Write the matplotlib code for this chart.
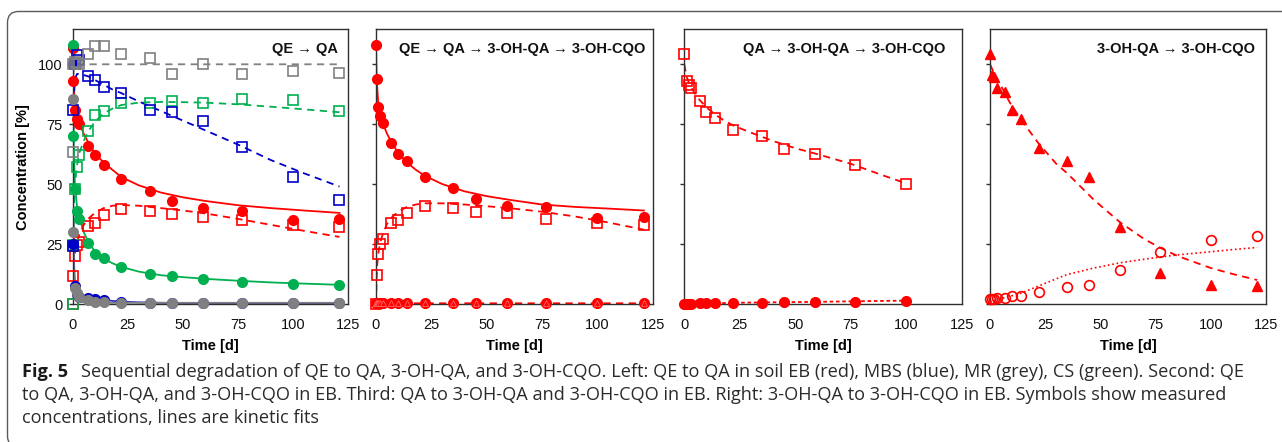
import numpy as np
import matplotlib.pyplot as plt
from matplotlib.patches import FancyBboxPatch
from matplotlib.text import Annotation
from matplotlib.transforms import IdentityTransform

# sampling times [d]
t1 = [0, 0.25, 1, 2, 3, 7, 10, 14, 22, 35, 45, 59, 77, 100, 121]
t3 = [0, 1, 2, 3, 7, 10, 14, 22, 35, 45, 59, 77, 100]
t4 = [0, 1, 2, 3, 7, 10, 14, 22, 35, 45, 59, 77, 100, 121]

# left panel, QE (circles) and QA (squares) per soil
eb_qe = [107, 93, 81, 77, 75, 66, 62, 58, 52, 47, 43, 40, 39, 35, 35.5]
eb_qa = [0, 11.5, 20, 24.5, 26, 32.5, 34, 37, 39.5, 39, 37.5, 36.5, 35, 33, 32]
mbs_qe = [100, 25, 7.5, 4, 3, 2.5, 2, 1.5, 0.8, 0.5, 0.4, 0.4, 0.3, 0.3, 0.3]
mbs_qa = [24, 81, 100, 104, 102, 95, 93.5, 90.5, 88, 81, 80, 76.5, 65.5, 53, 43.5]
mr_qe = [85.5, 30, 6.5, 4.5, 3, 1.5, 1, 0.8, 0.5, 0.5, 0.5, 0.5, 0.5, 0.5, 0.5]
mr_qa = [63.5, 100, 101, 100.5, 100, 104.5, 107.5, 107.5, 104.5, 102.5, 96, 100, 96, 97, 96.5]
cs_qe = [108, 70, 48, 39, 35.5, 25.5, 21, 19, 15.5, 12.5, 11.5, 10.5, 9, 8.5, 8]
cs_qa = [0, 24.5, 48, 57, 62, 72, 79, 80.5, 84, 84, 84.5, 84, 85.5, 85, 80.5]

# kinetic fits, left panel
ft1 = [0, 0.25, 0.5, 1, 2, 3, 5, 7, 10, 14, 18, 22, 30, 40, 50, 60, 75, 90, 105, 121]
eb_qe_fit = [107, 95, 90, 84, 78, 75.5, 71, 67.5, 63, 59, 56, 53, 49.5, 46.5, 44.5, 43, 41.2, 40, 39, 38]
eb_qa_fit = [0, 10, 16, 21, 26, 29, 33, 35.5, 38, 40, 41, 41.3, 41, 40, 39, 37.8, 35.5, 33, 30.5, 28]
cs_qe_fit = [108, 80, 66, 50, 40, 36, 30, 26, 22, 19, 17, 15.5, 13.5, 12, 11.2, 10.5, 9.7, 9, 8.5, 8]
cs_qa_fit = [0, 25, 38, 50, 58, 63, 68, 72, 76, 79.5, 81.5, 83, 84, 84.3, 84.2, 84, 83.3, 82.3, 81.2, 80]
mbs_qe_fit = [100, 40, 20, 8, 4, 3, 2.7, 2.5, 2.2, 1.8, 1.3, 1, 0.7, 0.5, 0.4, 0.4, 0.4, 0.4, 0.4, 0.4]
mbs_qa_fit = [20, 70, 85, 94, 96, 96, 95.5, 95, 93.5, 91.5, 89.5, 88, 84.5, 80.5, 76.5, 72.5, 66.5, 60, 54.5, 49]
mr_qe_fit = [86, 30, 15, 5, 2, 1.2, 0.8, 0.6, 0.5, 0.5, 0.5, 0.5, 0.5, 0.5, 0.5, 0.5, 0.5, 0.5, 0.5, 0.5]
mr_qa_fit = [64, 95, 99, 100, 100, 100, 100, 100, 100, 100, 100, 100, 100, 100, 100, 100, 100, 100, 100, 100]

# second panel, QE -> QA -> 3-OH-QA -> 3-OH-CQO
p2_qe = [108, 94, 82, 78.5, 75.5, 67, 62.5, 59.5, 53, 48.5, 44, 41, 40.5, 36, 36.5]
p2_qa = [0, 12, 21, 25, 27, 34, 35, 38, 41, 40, 38.5, 38, 35.5, 34, 33]
p2_oh = [0.3, 0.3, 0.3, 0.3, 0.3, 0.3, 0.3, 0.3, 0.3, 0.3, 0.3, 0.4, 0.4, 0.4, 0.4]
p2_qe_fit = [108, 96, 91, 84, 78.5, 75.5, 71, 67.5, 63, 59, 56, 53.5, 50, 47, 45, 43.5, 41.5, 40.5, 39.8, 39]
p2_qa_fit = [0, 10, 16, 21, 26, 29, 33.5, 36, 38.5, 40.5, 41.5, 42, 42, 41.5, 40.8, 40, 38.5, 36.5, 34, 31]
p2_oh_fit = [0, 0.1, 0.1, 0.2, 0.2, 0.2, 0.2, 0.2, 0.3, 0.3, 0.3, 0.3, 0.3, 0.3, 0.3, 0.3, 0.3, 0.3, 0.3, 0.3]

# third panel, QA -> 3-OH-QA -> 3-OH-CQO
p3_qa = [104.5, 93, 91.5, 90, 84.5, 80, 77.5, 72.5, 70, 64.5, 62.5, 58, 50]
p3_oh = [0, 0, 0, 0.2, 0.3, 0.3, 0.4, 0.4, 0.6, 0.7, 0.8, 1, 1.4]
ft3 = [0, 1, 2, 3, 5, 7, 10, 14, 18, 22, 30, 40, 50, 60, 75, 90, 100]
p3_qa_fit = [100, 95, 92.5, 90.5, 87.5, 85, 82, 79, 76.5, 74.5, 71.5, 68, 65, 62.5, 58.5, 53.5, 50.3]
p3_oh_fit = [0, 0.1, 0.1, 0.2, 0.2, 0.3, 0.3, 0.4, 0.4, 0.5, 0.6, 0.7, 0.8, 0.9, 1.1, 1.3, 1.4]

# right panel, 3-OH-QA -> 3-OH-CQO
p4_oh = [104.5, 95.5, 94.5, 90, 88.5, 81, 77, 65, 59.5, 53, 32, 13, 8, 7.5]
p4_cqo = [2, 2, 2, 2.3, 2.5, 3.3, 3.5, 5, 7, 8, 14, 21.5, 26.5, 28.5]
ft4 = [0, 2, 5, 9, 14, 22, 30, 35, 47, 59, 70, 77, 85, 100, 110, 121]
p4_oh_fit = [100, 96, 91, 84, 77, 67, 58.5, 54.5, 43.5, 34, 27, 23.5, 20, 15, 12.5, 10]
p4_cqo_fit = [1, 1.5, 2.3, 3.2, 4.5, 7.5, 10.5, 12.3, 15, 17.2, 18.7, 19.6, 20.5, 21.8, 22.7, 23.6]

titles = ['QE \u2192 QA', 'QE \u2192 QA \u2192 3-OH-QA \u2192 3-OH-CQO',
          'QA \u2192 3-OH-QA \u2192 3-OH-CQO', '3-OH-QA \u2192 3-OH-CQO']

RED = '#FF0000'
BLUE = '#0000C8'
GREEN = '#00B050'
GREY = '#808080'

plt.rcParams['font.family'] = ['Liberation Sans', 'DejaVu Sans']

W, H = 1282, 442
fig = plt.figure(figsize=(W / 100, H / 100), dpi=100)

# outer rounded frame
frame = FancyBboxPatch((7.5, -5), 1320, H - 11.5 + 5, boxstyle='round,pad=0,rounding_size=11',
                       transform=IdentityTransform(), fill=False, ec='#5a5a5a', lw=1.0)
fig.add_artist(frame)

# axes boxes in pixels: left, right
boxes = [(72.7, 348.3), (376, 652.7), (684.3, 961.7), (990, 1266)]
top_px, bot_px = 29.3, 304
axes = []
for l, r in boxes:
    ax = fig.add_axes([l / W, 1 - bot_px / H, (r - l) / W, (bot_px - top_px) / H])
    axes.append(ax)

ms_c = 6.8
ms_s = 6.6
lw = 1.3
dash = (4, 3)


def circ(ax, x, y, c, filled=True, ms=ms_c):
    ax.plot(x, y, 'o', ms=ms, mfc=c if filled else 'none', mec=c, mew=1.2,
            ls='none', clip_on=False, zorder=4)


def sq(ax, x, y, c):
    ax.plot(x, y, 's', ms=ms_s, mfc='none', mec=c, mew=1.2, ls='none', clip_on=False, zorder=4)


# panel 1
ax = axes[0]
ax.plot(ft1, eb_qe_fit, '-', color=RED, lw=lw)
ax.plot(ft1, eb_qa_fit, '--', color=RED, lw=lw, dashes=dash)
circ(ax, t1, eb_qe, RED)
sq(ax, t1, eb_qa, RED)
ax.plot(ft1, cs_qe_fit, '-', color=GREEN, lw=lw)
ax.plot(ft1, cs_qa_fit, '--', color=GREEN, lw=lw, dashes=dash)
circ(ax, t1, cs_qe, GREEN)
sq(ax, t1, cs_qa, GREEN)
ax.plot(ft1, mbs_qe_fit, '-', color='#3030C8', lw=lw)
ax.plot(ft1, mbs_qa_fit, '--', color=BLUE, lw=lw, dashes=dash)
circ(ax, t1, mbs_qe, BLUE)
sq(ax, t1, mbs_qa, BLUE)
ax.plot(ft1, mr_qe_fit, '-', color=GREY, lw=lw)
ax.plot(ft1, mr_qa_fit, '--', color=GREY, lw=lw, dashes=dash)
circ(ax, t1, mr_qe, GREY)
sq(ax, t1, mr_qa, GREY)

# panel 2
ax = axes[1]
ax.plot(ft1, p2_qe_fit, '-', color=RED, lw=lw)
ax.plot(ft1, p2_qa_fit, '--', color=RED, lw=lw, dashes=dash)
ax.plot(ft1, p2_oh_fit, '--', color=RED, lw=lw, dashes=dash)
circ(ax, t1, p2_qe, RED)
sq(ax, t1, p2_qa, RED)
circ(ax, t1, p2_oh, RED)
ax.plot(t1, p2_oh, '^', ms=5, mfc=RED, mec='#ff6666', mew=0.6, ls='none', clip_on=False, zorder=5)

# panel 3
ax = axes[2]
ax.plot(ft3, p3_qa_fit, '--', color=RED, lw=lw, dashes=dash)
ax.plot(ft3, p3_oh_fit, '--', color=RED, lw=lw, dashes=(2, 1.5))
sq(ax, t3, p3_qa, RED)
circ(ax, t3, p3_oh, RED)

# panel 4
ax = axes[3]
ax.plot(ft4, p4_oh_fit, '--', color=RED, lw=lw, dashes=dash)
ax.plot(ft4, p4_cqo_fit, ':', color=RED, lw=1.2)
ax.plot(t4, p4_oh, '^', ms=7.5, color=RED, ls='none', clip_on=False, zorder=4)
circ(ax, t4, p4_cqo, RED, filled=False, ms=7)

title_x = [0.964, 0.972, 0.94, 0.96]
for i, ax in enumerate(axes):
    ax.set_xlim(0, 125)
    ax.set_ylim(0, 114.6)
    ax.set_xticks([0, 25, 50, 75, 100, 125])
    ax.set_yticks([0, 25, 50, 75, 100])
    for s in ax.spines.values():
        s.set_color('#303030')
        s.set_linewidth(1.0)
    ax.tick_params(direction='out', length=3, width=1.0, color='#303030',
                   labelsize=10.5, pad=4, labelcolor='#111111')
    ax.tick_params(axis='x', length=0, pad=10)
    if i > 0:
        ax.set_yticklabels([])
    ax.set_xlabel('Time [d]', fontsize=10.5, fontweight='bold', labelpad=5)
    ax.text(title_x[i], 0.928, titles[i], transform=ax.transAxes, ha='right', va='center',
            fontsize=10.5, fontweight='bold', color='#111111')
axes[0].set_ylabel('Concentration [%]', fontsize=10.5, fontweight='bold', labelpad=6)

# caption
cap_font = ['Open Sans', 'DejaVu Sans']
cap_size = 13.1
lead = fig.text(22 / W, 1 - 377 / H, 'Fig. 5', family=cap_font, fontsize=cap_size,
                fontweight='bold', color='#1a1a1a', va='baseline')
line1 = ('Sequential degradation of QE to QA, 3-OH-QA, and 3-OH-CQO. Left: QE to QA in soil EB (red), '
         'MBS (blue), MR (grey), CS (green). Second: QE')
line2 = ('to QA, 3-OH-QA, and 3-OH-CQO in EB. Third: QA to 3-OH-QA and 3-OH-CQO in EB. Right: 3-OH-QA '
         'to 3-OH-CQO in EB. Symbols show measured')
line3 = 'concentrations, lines are kinetic fits'
rest = Annotation(line1, xy=(1, 0), xycoords=lead, xytext=(9, 0), textcoords='offset points',
                  family=cap_font, fontsize=cap_size, color='#2a2a2a', va='bottom')
fig.add_artist(rest)
fig.text(22 / W, 1 - 400 / H, line2, family=cap_font, fontsize=cap_size, color='#2a2a2a', va='baseline')
fig.text(22 / W, 1 - 423 / H, line3, family=cap_font, fontsize=cap_size, color='#2a2a2a', va='baseline')

fig.savefig('out.png', dpi=100)
